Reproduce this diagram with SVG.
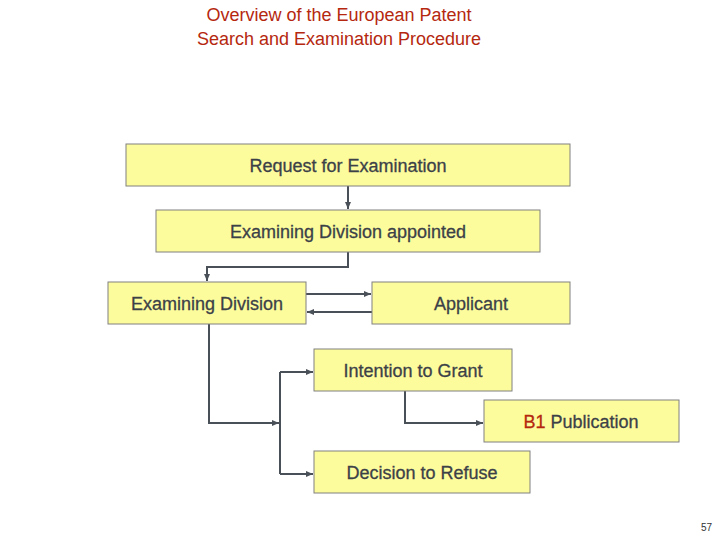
<svg xmlns="http://www.w3.org/2000/svg" width="720" height="540" viewBox="0 0 720 540">
<style>
.b{fill:#fcfc9c;stroke:#808080;stroke-width:1}
.t{font-family:"Liberation Sans",Arial,sans-serif;font-size:18px;fill:#3c4148;text-anchor:middle;stroke:#3c4148;stroke-width:0.3}
.c{fill:none;stroke:#4a5058;stroke-width:2}
.h{font-family:"Liberation Sans",Arial,sans-serif;font-size:18px;fill:#b5280f;text-anchor:middle}
</style>
<defs><marker id="a" markerWidth="8" markerHeight="8" refX="7" refY="4" orient="auto" markerUnits="userSpaceOnUse"><path d="M0,1 L7,4 L0,7 Z" fill="#4a5058"/></marker></defs>
<rect width="720" height="540" fill="#fff"/>
<text class="h" x="339" y="21">Overview of the European Patent</text>
<text class="h" x="339" y="45">Search and Examination Procedure</text>
<g id="connectors">
<path class="c" d="M348,186 V209" marker-end="url(#a)"/>
<path class="c" d="M348,252 V267 H207 V281" marker-end="url(#a)"/>
<path class="c" d="M306,294 H371" marker-end="url(#a)"/>
<path class="c" d="M372,312 H307" marker-end="url(#a)"/>
<path class="c" d="M209,324 V423 H279" marker-end="url(#a)"/>
<path class="c" d="M280,372 V474"/>
<path class="c" d="M280,372 H313" marker-end="url(#a)"/>
<path class="c" d="M280,474 H313" marker-end="url(#a)"/>
<path class="c" d="M405,391 V423 H483" marker-end="url(#a)"/>
</g>
<g id="request"><rect class="b" x="126" y="144" width="444" height="42"/><text class="t" x="348" y="172">Request for Examination</text></g>
<g id="appointed"><rect class="b" x="156" y="210" width="384" height="42"/><text class="t" x="348" y="238">Examining Division appointed</text></g>
<g id="division"><rect class="b" x="108" y="282" width="198" height="42"/><text class="t" x="207" y="310">Examining Division</text></g>
<g id="applicant"><rect class="b" x="372" y="282" width="198" height="42"/><text class="t" x="471" y="310">Applicant</text></g>
<g id="grant"><rect class="b" x="314" y="349" width="198" height="42"/><text class="t" x="413" y="377">Intention to Grant</text></g>
<g id="b1"><rect class="b" x="484" y="400" width="195" height="42"/><text class="t" x="581" y="428"><tspan fill="#b5280f" stroke="#b5280f">B1</tspan> Publication</text></g>
<g id="refuse"><rect class="b" x="314" y="451" width="216" height="42"/><text class="t" x="422" y="479">Decision to Refuse</text></g>
<text x="712" y="531" font-family="Liberation Sans,Arial,sans-serif" font-size="10" fill="#333" text-anchor="end">57</text>
</svg>
